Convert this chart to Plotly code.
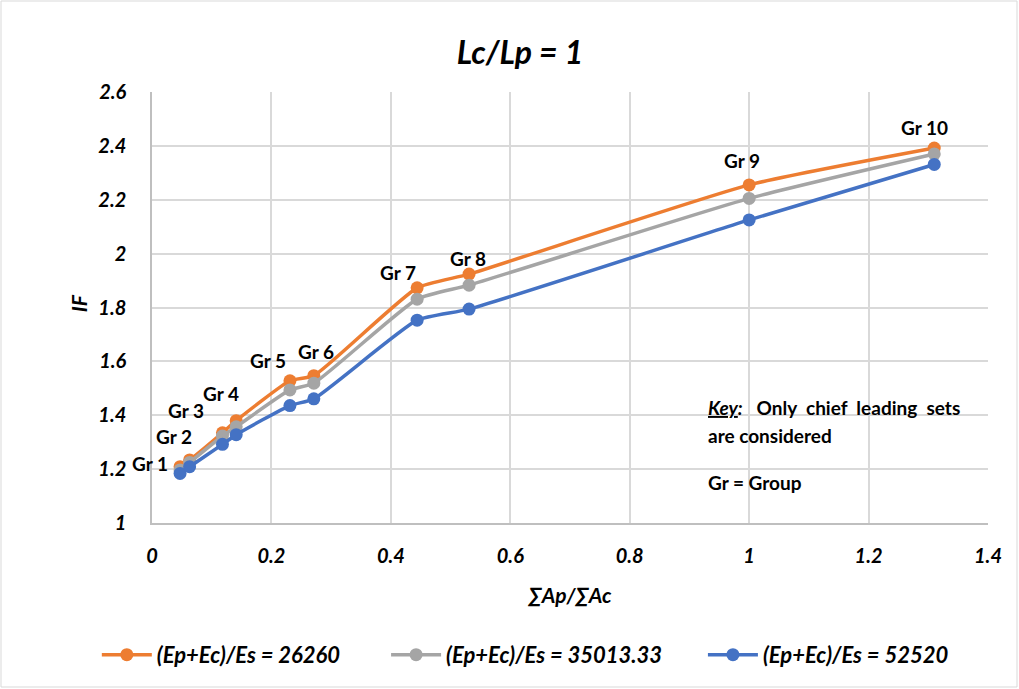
import plotly.graph_objects as go

groups = ["Gr 1", "Gr 2", "Gr 3", "Gr 4", "Gr 5", "Gr 6", "Gr 7", "Gr 8", "Gr 9", "Gr 10"]
ratio_x = [0.047, 0.063, 0.118, 0.141, 0.231, 0.271, 0.444, 0.531, 1.0, 1.31]
if_26260 = [1.209, 1.234, 1.335, 1.380, 1.528, 1.547, 1.873, 1.924, 2.255, 2.392]
if_35013 = [1.197, 1.225, 1.323, 1.357, 1.494, 1.519, 1.831, 1.883, 2.205, 2.370]
if_52520 = [1.184, 1.209, 1.292, 1.328, 1.436, 1.461, 1.753, 1.794, 2.125, 2.331]
series_names = ["(Ep+Ec)/Es = 26260", "(Ep+Ec)/Es = 35013.33", "(Ep+Ec)/Es = 52520"]
colors = ["#ED7D31", "#A5A5A5", "#4472C4"]
label_shift_x = [-30, -16, -36, -15, -22, 2, -19, -1, -7, -10]
label_shift_y = [3, 23, 22, 27, 20, 24, 15, 16, 24, 21]
x_ticks = [0, 0.2, 0.4, 0.6, 0.8, 1, 1.2, 1.4]
x_tick_text = ["0", "0.2", "0.4", "0.6", "0.8", "1", "1.2", "1.4"]
y_ticks = [1, 1.2, 1.4, 1.6, 1.8, 2, 2.2, 2.4, 2.6]
y_tick_text = ["1", "1.2", "1.4", "1.6", "1.8", "2", "2.2", "2.4", "2.6"]

FONT = "Lato"
legend_ids = ["legend", "legend2", "legend3"]
legend_x = [-0.066, 0.280, 0.659]

fig = go.Figure()
for name, ys, c, lg in zip(series_names, [if_26260, if_35013, if_52520], colors, legend_ids):
    fig.add_trace(go.Scatter(
        x=ratio_x, y=ys, name="<b><i>" + name + "</i></b>", mode="lines+markers",
        line=dict(color=c, width=3.5, shape="spline", smoothing=0.5),
        marker=dict(color=c, size=13), legend=lg,
    ))

for g, xv, yv, sx, sy in zip(groups, ratio_x, if_26260, label_shift_x, label_shift_y):
    fig.add_annotation(x=xv, y=yv, text="<b>" + g + "</b>", showarrow=False,
                       xshift=sx, yshift=sy, font=dict(family=FONT, size=19, color="#000"))

fig.add_annotation(xref="paper", yref="paper", x=0.663, y=0.267, xanchor="left", yanchor="middle",
                   text="<b><i><u>Key</u>:</i>   Only  chief  leading  sets</b>", showarrow=False,
                   font=dict(family=FONT, size=19, color="#000"))
fig.add_annotation(xref="paper", yref="paper", x=0.663, y=0.202, xanchor="left", yanchor="middle",
                   text="<b>are considered</b>", showarrow=False,
                   font=dict(family=FONT, size=19, color="#000"))
fig.add_annotation(xref="paper", yref="paper", x=0.663, y=0.093, xanchor="left", yanchor="middle",
                   text="<b>Gr = Group</b>", showarrow=False,
                   font=dict(family=FONT, size=19, color="#000"))

# y-axis title
fig.add_annotation(xref="paper", yref="paper", x=(78 - 152) / 836, y=0.51,
                   xanchor="center", yanchor="middle", textangle=-90,
                   text="<b><i>IF</i></b>", showarrow=False,
                   font=dict(family=FONT, size=21, color="#000"))

# chart border
fig.add_shape(type="rect", xref="paper", yref="paper",
              x0=-151/836, x1=(1017-152)/836, y0=-(687-523)/431, y1=(523-1)/431,
              line=dict(color="#D9D9D9", width=1))

legend_common = dict(orientation="h", xanchor="left", y=-0.306, yanchor="middle",
                     font=dict(family=FONT, size=22, color="#000"), itemwidth=50,
                     bgcolor="rgba(0,0,0,0)")

fig.update_layout(
    width=1019, height=689,
    margin=dict(l=152, r=31, t=92, b=166, autoexpand=False),
    paper_bgcolor="white", plot_bgcolor="white",
    title=dict(text="<b><i>Lc/Lp = 1</i></b>", x=520 / 1019, xanchor="center",
               y=1 - 53 / 689, yanchor="middle",
               font=dict(family=FONT, size=32, color="#000")),
    showlegend=True,
    legend=dict(x=legend_x[0], **legend_common),
    legend2=dict(x=legend_x[1], **legend_common),
    legend3=dict(x=legend_x[2], **legend_common),
    xaxis=dict(range=[0, 1.4], tickvals=x_ticks, ticktext=x_tick_text,
               showgrid=True, gridcolor="#D9D9D9", gridwidth=1.5,
               showline=True, linecolor="#BFBFBF", linewidth=1.5,
               zeroline=False, ticks="", ticklabelstandoff=14,
               tickfont=dict(family=FONT, size=20, color="#000", weight="bold", style="italic"),
               title=dict(text="<b><i>∑Ap/∑Ac</i></b>", standoff=23,
                          font=dict(family=FONT, size=21, color="#000"))),
    yaxis=dict(range=[1, 2.6], tickvals=y_ticks, ticktext=y_tick_text,
               showgrid=True, gridcolor="#D9D9D9", gridwidth=1.5,
               showline=True, linecolor="#BFBFBF", linewidth=1.5,
               zeroline=False, ticks="", ticklabelstandoff=20,
               tickfont=dict(family=FONT, size=20, color="#000", weight="bold", style="italic")),
)

fig.write_html("out.html")
